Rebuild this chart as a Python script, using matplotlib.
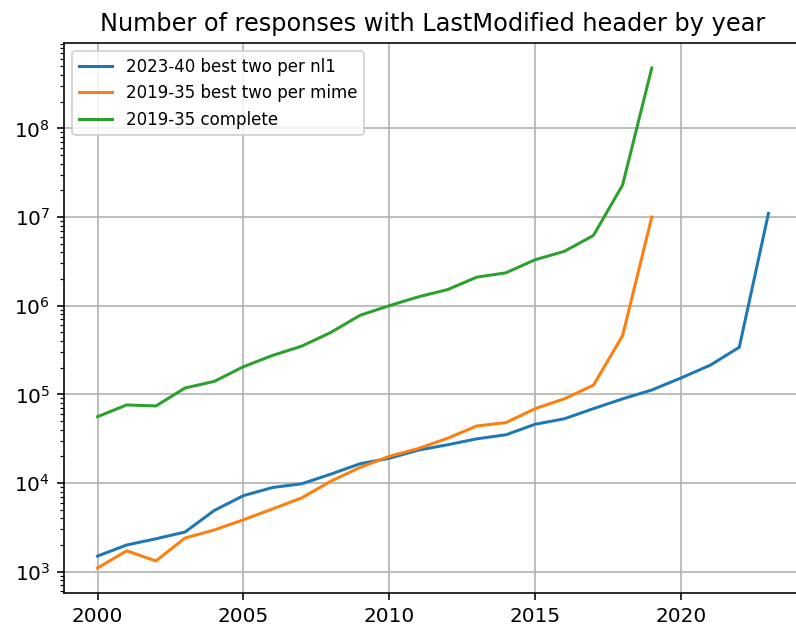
import matplotlib

matplotlib.use("Agg")
import matplotlib.pyplot as plt  # noqa: E402

years = list(range(2000, 2024))
years_2019 = list(range(2000, 2020))

# responses per year, by crawl
nl1_2023_40 = [1500, 2000, 2350, 2800, 4900, 7200, 8900, 9800, 12600, 16500,
               19000, 23500, 27000, 31500, 35000, 46000, 53000, 69000, 89000,
               112000, 153000, 213000, 340000, 1.1e7]
mime_2019_35 = [1100, 1720, 1320, 2400, 2950, 3850, 5100, 6800, 10500, 15000,
                20000, 24500, 32000, 44000, 48000, 69000, 89000, 127000,
                460000, 1.0e7]
complete_2019_35 = [56000, 76000, 74000, 118000, 140000, 205000, 275000,
                    350000, 500000, 780000, 1.0e6, 1.26e6, 1.52e6, 2.1e6,
                    2.35e6, 3.3e6, 4.1e6, 6.2e6, 2.3e7, 4.8e8]

W, H, DPI = 796, 627, 144
fig, ax = plt.subplots(figsize=(W / DPI, H / DPI), dpi=DPI)
# axes run slightly past the right edge, so the right spine is clipped
fig.subplots_adjust(left=64 / W, right=802 / W, top=1 - 43 / H,
                    bottom=1 - 593 / H)
ax.plot(years, nl1_2023_40, label="2023-40 best two per nl1")
ax.plot(years_2019, mime_2019_35, label="2019-35 best two per mime")
ax.plot(years_2019, complete_2019_35, label="2019-35 complete")
ax.set_yscale("log")
ax.grid(True)
ax.set_title("Number of responses with LastModified header by year")
ax.legend(loc="upper left", fontsize="small")
fig.savefig("out.png", dpi=DPI)
